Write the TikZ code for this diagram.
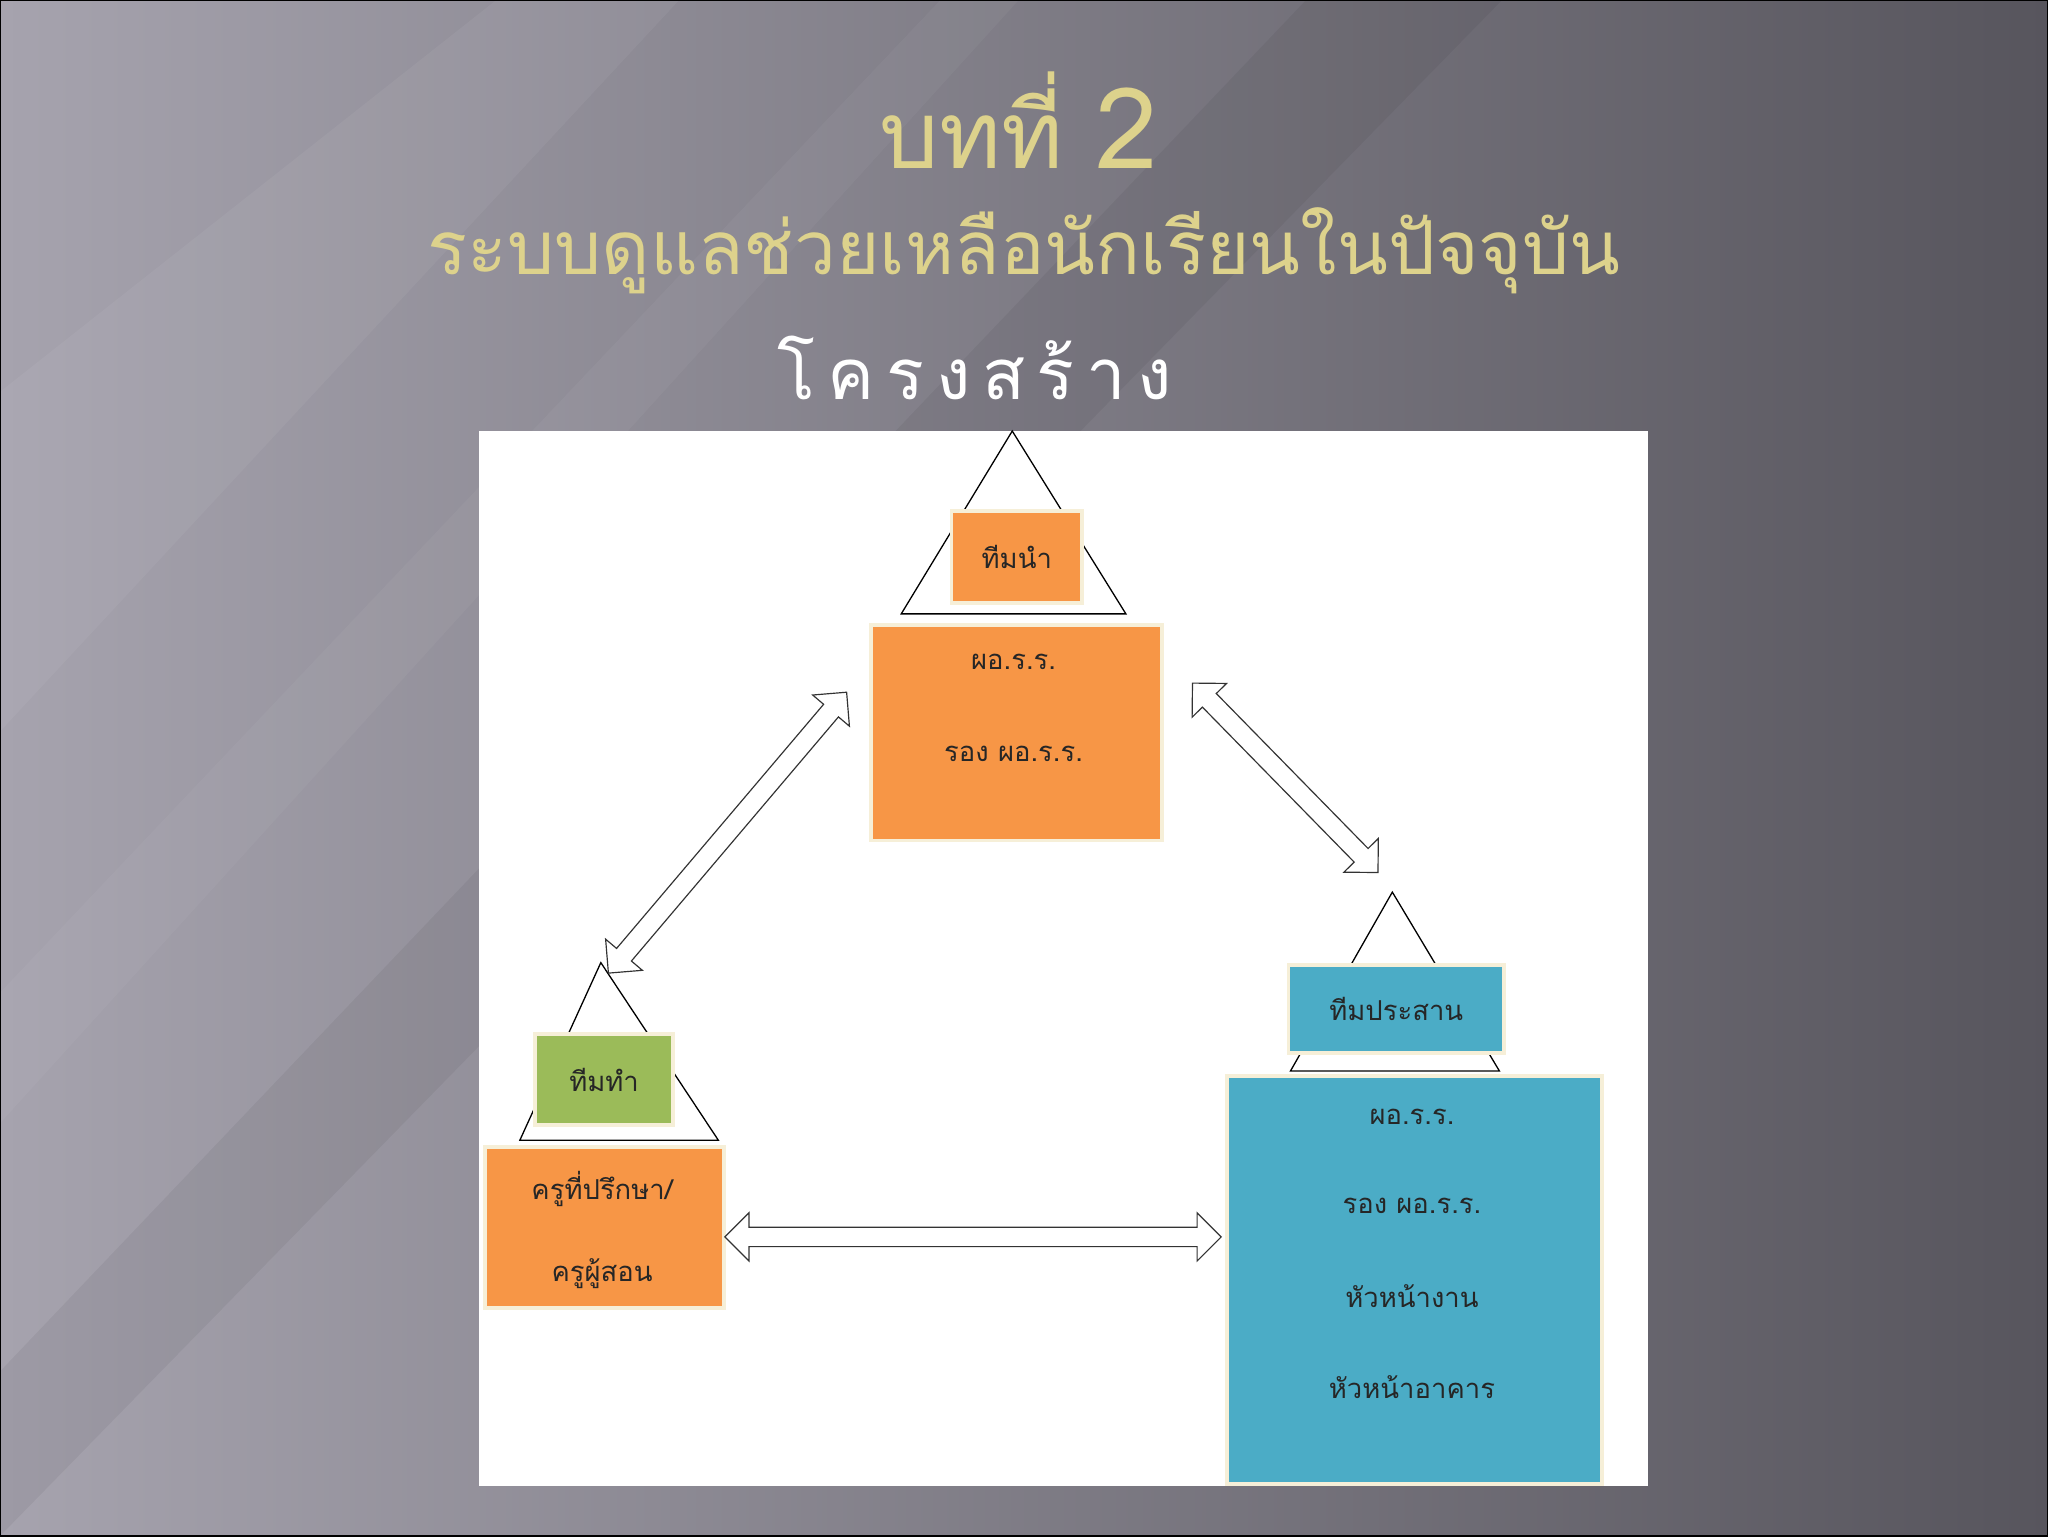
\documentclass[tikz,border=0pt]{standalone}
\usepackage{fontspec}
\newfontfamily\thai[Script=Thai]{Loma}
\usetikzlibrary{shapes.arrows,shadings}
\definecolor{gold}{HTML}{DDD28C}
\definecolor{org}{HTML}{F79646}
\definecolor{grn}{HTML}{9BBB59}
\definecolor{blu}{HTML}{4BACC6}
\definecolor{cream}{HTML}{F6EFD8}
\definecolor{bgl}{HTML}{A6A3AE}
\definecolor{bgr}{HTML}{57555D}
\tikzset{
  box/.style={draw=cream,line width=3pt,inner sep=0pt,anchor=north west},
  tri/.style={draw=black,line width=1pt,fill=white},
  dblarr/.style={double arrow,draw=black!80,fill=white,line width=0.9pt,inner xsep=0pt,inner ysep=7pt,
    text height=0pt,text depth=0pt,double arrow head extend=11pt,
    double arrow head indent=0pt},
  boxtxt/.style={font=\thai\fontsize{21}{24}\selectfont,text=black!85},
  titletxt/.style={text=gold}
}
\begin{document}
\begin{tikzpicture}[x=1pt,y=-1pt]
\useasboundingbox (0,0) rectangle (1568,1176);
\shade[left color=bgl,right color=bgr] (0,0) rectangle (1568,1176);
\fill[white,opacity=0.05] (0,300) -- (380,0) -- (520,0) -- (0,560) -- cycle;
\fill[white,opacity=0.04] (0,760) -- (720,0) -- (780,0) -- (0,860) -- cycle;
\fill[black,opacity=0.05] (0,1050) -- (1000,0) -- (1150,0) -- (0,1176) -- cycle;
\draw[black,line width=2pt] (0,0) rectangle (1568,1176);
% titles
\node[titletxt,font=\thai\fontsize{72}{80}\selectfont] (t1) at (780,92) {บทที่ {\fontsize{86}{90}\selectfont 2}};
\node[titletxt,font=\thai\fontsize{57}{60}\selectfont] (t2) at (784,192) {ระบบดูแลช่วยเหลือนักเรียนในปัจจุบัน};
\node[text=white,font=\thai\fontsize{54}{60}\selectfont,anchor=west] (t3) at (592,282) {โ\,ค\,ร\,ง\,ส\,ร้\,า\,ง};
% panel
\fill[white] (367,330) rectangle (1262,1138);
% top group
\draw[tri] (775,330) -- (862,470) -- (690,470) -- cycle;
\node[box,fill=org,minimum width=100pt,minimum height=70pt] (b1) at (727,390) {};
\node[boxtxt] at (b1.center) {ทีมนำ};
\node[box,fill=org,minimum width=223pt,minimum height=165pt] (b2) at (665,477) {};
\node[boxtxt] at (776,507) {ผอ.ร.ร.};
\node[boxtxt] at (776,577) {รอง ผอ.ร.ร.};
% left group
\draw[tri] (460,737) -- (550,873) -- (398,873) -- cycle;
\node[box,fill=grn,minimum width=106pt,minimum height=70pt] (g1) at (408,790) {};
\node[boxtxt] at (g1.center) {ทีมทำ};
\node[box,fill=org,minimum width=183pt,minimum height=123pt] (g2) at (370,877) {};
\node[boxtxt] at (461,910) {ครูที่ปรึกษา/};
\node[boxtxt] at (461,975) {ครูผู้สอน};
% right group
\draw[tri] (1066,683) -- (1148,820) -- (988,820) -- cycle;
\node[box,fill=blu,minimum width=165pt,minimum height=68pt] (r1) at (985,737) {};
\node[boxtxt] at (r1.center) {ทีมประสาน};
\node[box,fill=blu,minimum width=287pt,minimum height=313pt] (r2) at (938,822) {};
\node[boxtxt] at (1081,855) {ผอ.ร.ร.};
\node[boxtxt] at (1081,923) {รอง ผอ.ร.ร.};
\node[boxtxt] at (1081,992) {หัวหน้างาน};
\node[boxtxt] at (1081,1062) {หัวหน้าอาคาร};
% arrows
\node[dblarr,minimum height=282pt,rotate=49.7] (a1) at (557,637.5) {};
\node[dblarr,minimum height=203pt,rotate=-45.6] (a2) at (984,595.5) {};
\node[dblarr,minimum height=380pt] (a3) at (745,947) {};
\end{tikzpicture}
\end{document}
